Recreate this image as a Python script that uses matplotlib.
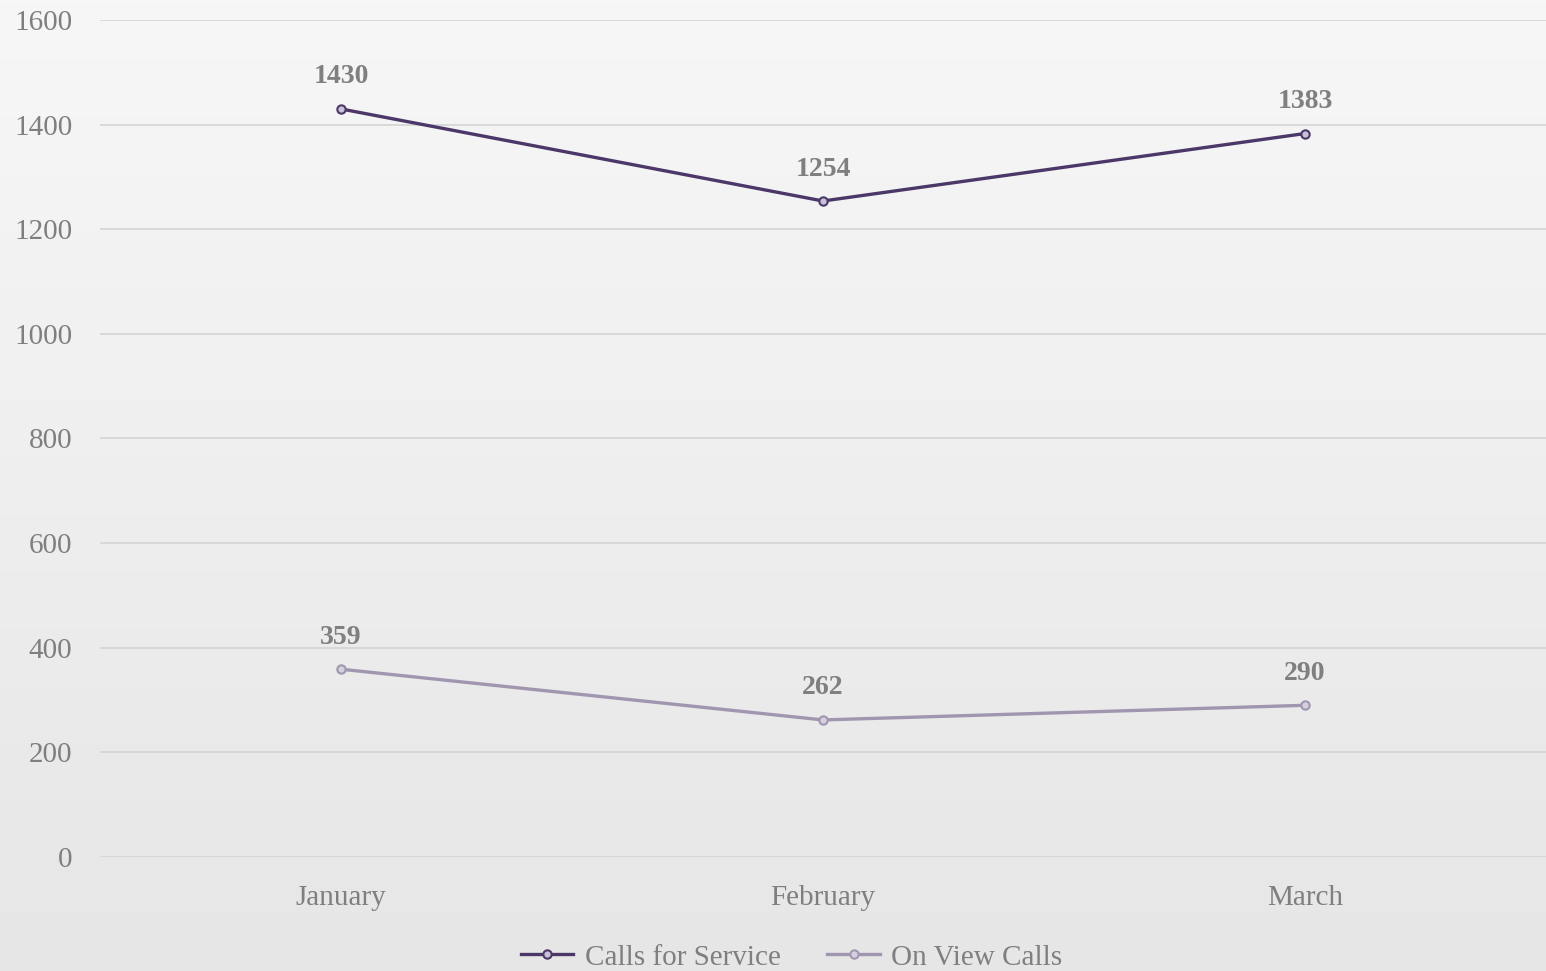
import numpy as np
import matplotlib
matplotlib.use("Agg")
import matplotlib.pyplot as plt

months = ["January", "February", "March"]
calls_for_service = [1430, 1254, 1383]
on_view_calls = [359, 262, 290]

plt.rcParams['font.family'] = ['Liberation Serif', 'DejaVu Serif']

fig = plt.figure(figsize=(15.46, 9.71), dpi=100)

# soft grey background gradient
bg = fig.add_axes([0, 0, 1, 1], zorder=-10)
grad = np.linspace(0, 1, 256).reshape(-1, 1)
bg.imshow(grad, aspect='auto', cmap=matplotlib.colors.LinearSegmentedColormap.from_list(
    'bg', ['#f7f7f7', '#e6e6e6']), extent=[0, 1, 0, 1], origin='upper')
bg.axis('off')

ax = fig.add_axes([100 / 1546, 114 / 971, 1 - 100 / 1546, (857 - 20) / 971])
ax.patch.set_alpha(0)

x = np.arange(len(months))
ax.plot(x, calls_for_service, color='#4b3768', lw=2.4, marker='o', ms=6,
        mfc='#c9c1d6', mec='#4b3768', mew=1.5, label='Calls for Service', zorder=3)
ax.plot(x, on_view_calls, color='#a096b0', lw=2.4, marker='o', ms=6,
        mfc='#d6d0de', mec='#a096b0', mew=1.5, label='On View Calls', zorder=3)

for xi, v in zip(x, calls_for_service):
    ax.annotate(str(v), (xi, v), xytext=(0, 14), textcoords='offset points',
                ha='center', va='bottom', fontsize=20, fontweight='bold', color='#7f7f7f')
for xi, v in zip(x, on_view_calls):
    ax.annotate(str(v), (xi, v), xytext=(0, 14), textcoords='offset points',
                ha='center', va='bottom', fontsize=20, fontweight='bold', color='#7f7f7f')

ax.set_xlim(-0.5, 2.5)
ax.set_ylim(0, 1600)
ax.set_yticks(range(0, 1601, 200))
ax.set_xticks(x)
ax.set_xticklabels(months)
ax.grid(axis='y', color='#d4d4d4', lw=1.2)
ax.set_axisbelow(True)
for s in ax.spines.values():
    s.set_visible(False)
ax.tick_params(axis='both', length=0, labelsize=21, labelcolor='#7f7f7f')
ax.tick_params(axis='y', pad=20)
ax.tick_params(axis='x', pad=20)

fig.legend(loc='center', bbox_to_anchor=(0.512, 0.014), ncol=2, frameon=False,
           fontsize=21, labelcolor='#7f7f7f', handlelength=1.8, columnspacing=1.6,
           handletextpad=0.4)

fig.savefig('out.png', dpi=100)
